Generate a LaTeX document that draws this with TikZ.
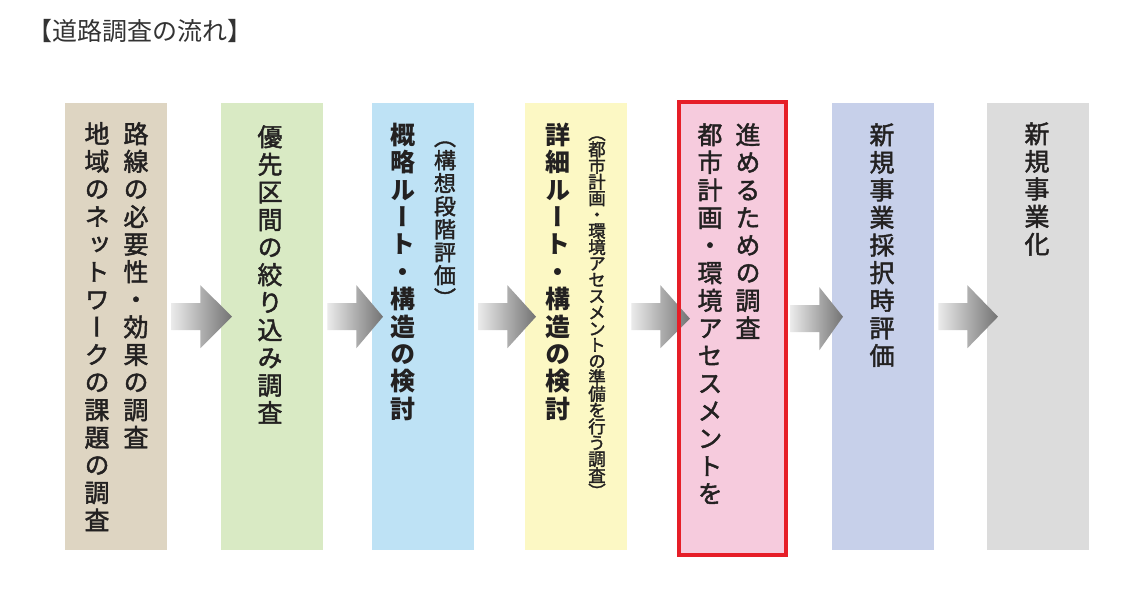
\documentclass[tikz,border=0pt]{standalone}
\usepackage{fontspec}
\newfontfamily\jp{Noto Sans CJK JP}
\newfontfamily\jpv[RawFeature=+vert]{Noto Sans CJK JP}
\newfontfamily\jpvm[RawFeature={+vert;embolden=1.8}]{Noto Sans CJK JP}
\usetikzlibrary{calc}
\definecolor{cA}{RGB}{222,213,194}
\definecolor{cB}{RGB}{217,234,196}
\definecolor{cC}{RGB}{190,226,245}
\definecolor{cD}{RGB}{252,248,196}
\definecolor{cE}{RGB}{246,203,221}
\definecolor{cF}{RGB}{199,208,234}
\definecolor{cG}{RGB}{220,220,220}
\definecolor{frame}{RGB}{230,30,40}
\definecolor{ink}{RGB}{35,33,33}
\definecolor{titleink}{RGB}{51,51,51}
\newcommand\tb{\rule{0pt}{0.88em}}
\tikzset{
  box/.style={anchor=north west, inner sep=0pt, minimum width=102pt, minimum height=447pt},
  tate/.style={anchor=north, inner sep=0pt, align=center, text=ink,
    font=\jpvm\fontsize{25}{27.6}\selectfont},
  tatebold/.style={tate, font=\jpv\bfseries\fontsize{25}{27.4}\selectfont},
  tatesmall/.style={tate, font=\jpvm\fontsize{22}{23}\selectfont},
  tatetiny/.style={tate, font=\jpvm\fontsize{17.5}{16.3}\selectfont},
  arrowfill/.style={left color=black!8, right color=black!55}
}
\newcommand\flowarrow[2]{%
  \shade[arrowfill] let \p1=($(#1.east)+(4,-10)$), \p2=($(#2.west)+(11,-10)$) in
    (\x1,{\y1+13.5pt}) -- ({\x1+29pt},{\y1+13.5pt}) -- ({\x1+29pt},{\y1+31.5pt})
    -- (\x2,\y2) -- ({\x1+29pt},{\y1-31.5pt}) -- ({\x1+29pt},{\y1-13.5pt})
    -- (\x1,{\y1-13.5pt}) -- cycle;}
\begin{document}
\lineskiplimit=-50pt
\begin{tikzpicture}[x=1pt,y=-1pt]
\fill[white] (0,0) rectangle (1122,612);
\useasboundingbox (0,0) rectangle (1122,612);
\node[anchor=west, inner sep=0pt, text=titleink, font=\jp\fontsize{25}{25}\selectfont] (title) at (27,31) {【道路調査の流れ】};
% boxes
\node[box, fill=cA] (b1) at (65,103) {};
\node[box, fill=cB] (b2) at (221,103) {};
\node[box, fill=cC] (b3) at (372,103) {};
\node[box, fill=cD] (b4) at (525,103) {};
\node[box, fill=cE, minimum width=107pt, minimum height=453pt] (b5) at (679,102) {};
\node[box, fill=cF] (b6) at (832,103) {};
\node[box, fill=cG] (b7) at (987,103) {};
% arrows
\flowarrow{b1}{b2}
\flowarrow{b2}{b3}
\flowarrow{b3}{b4}
\flowarrow{b4}{b5}
\flowarrow{b5}{b6}
\flowarrow{b6}{b7}
\draw[frame, line width=4pt] (b5.north west) rectangle (b5.south east);
% texts
\node[tate] (t1a) at (136,121) {\tb 路\\線\\の\\必\\要\\性\\・\\効\\果\\の\\調\\査};
\node[tate] (t1b) at (97,121) {\tb 地\\域\\の\\ネ\\ッ\\ト\\ワ\\ー\\ク\\の\\課\\題\\の\\調\\査};
\node[tate] (t2) at (270,124) {\tb 優\\先\\区\\間\\の\\絞\\り\\込\\み\\調\\査};
\node[tatebold] (t3) at (403,122) {\tb 概\\略\\ル\\ー\\ト\\・\\構\\造\\の\\検\\討};
\node[tatesmall] (t3s) at (445,126) {\tb （\\構\\想\\段\\階\\評\\価\\）};
\node[tatebold] (t4) at (558,122) {\tb 詳\\細\\ル\\ー\\ト\\・\\構\\造\\の\\検\\討};
\node[tatetiny] (t4s) at (597,124) {\tb （\\都\\市\\計\\画\\・\\環\\境\\ア\\セ\\ス\\メ\\ン\\ト\\の\\準\\備\\を\\行\\う\\調\\査\\）};
\node[tate] (t5a) at (748,122) {\tb 進\\め\\る\\た\\め\\の\\調\\査};
\node[tate] (t5b) at (710,122) {\tb 都\\市\\計\\画\\・\\環\\境\\ア\\セ\\ス\\メ\\ン\\ト\\を};
\node[tate] (t6) at (882,122) {\tb 新\\規\\事\\業\\採\\択\\時\\評\\価};
\node[tate] (t7) at (1037,121) {\tb 新\\規\\事\\業\\化};
\end{tikzpicture}
\end{document}
